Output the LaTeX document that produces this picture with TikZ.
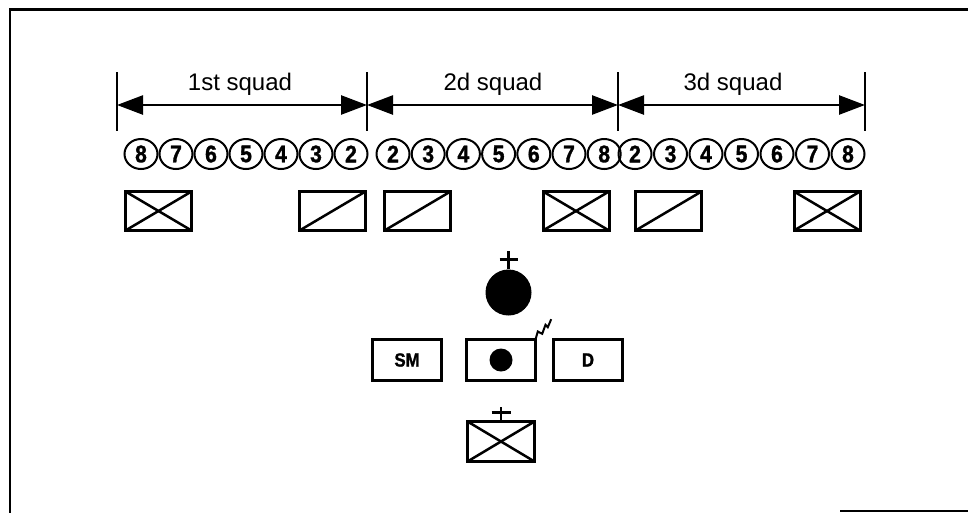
\documentclass[tikz,border=0pt]{standalone}
\usepackage{fontspec}
\setmainfont{Liberation Sans}
\newfontfamily\numfont[FakeBold=1.4,FakeStretch=0.88]{Liberation Sans Bold}
\usetikzlibrary{arrows.meta,shapes.geometric}

\tikzset{
  man/.style={draw, ellipse, line width=2pt, minimum width=33pt, minimum height=30pt,
    inner sep=0pt, font=\fontsize{24}{24}\selectfont\numfont},
  team/.style={draw, rectangle, line width=3pt, minimum width=66pt, minimum height=39pt,
    inner sep=0pt, outer sep=0pt},
  cpbox/.style={team, minimum width=69pt, minimum height=41pt,
    font=\fontsize{19}{19}\selectfont\numfont},
  squadlabel/.style={anchor=base, font=\fontsize{24}{24}\selectfont},
}

\begin{document}
\begin{tikzpicture}[>={Triangle[length=26pt,width=19pt]}, x=1pt, y=-1pt]
  \useasboundingbox (0,0) rectangle (968,512);

  % Frame
  \draw[line width=2.5pt] (970,9.5) -- (10,9.5) -- (10,514);
  \draw[line width=2.5pt] (840,511) -- (970,511);

  % Squad frontages
  \coordinate (k1) at (117,105);
  \coordinate (k2) at (367,105);
  \coordinate (k3) at (618,105);
  \coordinate (k4) at (865,105);
  \foreach \k in {k1,k2,k3,k4}
    \draw[line width=1.8pt] (\k) +(0,-33) -- +(0,26);
  \draw[<->, line width=2.5pt] (k1) -- (k2);
  \draw[<->, line width=2.5pt] (k2) -- (k3);
  \draw[<->, line width=2.5pt] (k3) -- (k4);

  \node[squadlabel] (lab1) at (240,90) {1st squad};
  \node[squadlabel] (lab2) at (493,90) {2d squad};
  \node[squadlabel] (lab3) at (733,90) {3d squad};

  % Soldiers
  \foreach \n [count=\i] in {8,7,6,5,4,3,2}
    \node[man] (a\i) at ({141+35*(\i-1)},154) {\n};
  \foreach \n [count=\i] in {2,3,4,5,6,7,8}
    \node[man] (b\i) at ({393+35.2*(\i-1)},154) {\n};
  \foreach \n [count=\i] in {2,3,4,5,6,7,8}
    \node[man] (c\i) at ({635+35.5*(\i-1)},154) {\n};

  % Teams
  \node[team] (t1) at (158.5,211) {};
  \node[team] (t2) at (332.5,211) {};
  \node[team] (t3) at (417.5,211) {};
  \node[team] (t4) at (576,211) {};
  \node[team] (t5) at (668.5,211) {};
  \node[team] (t6) at (827,211) {};
  \foreach \t in {t1,t4,t6} {
    \draw[line width=2.5pt] (\t.north west) -- (\t.south east);
    \draw[line width=2.5pt] (\t.south west) -- (\t.north east);
  }
  \foreach \t in {t2,t3,t5}
    \draw[line width=2.5pt] (\t.south west) -- (\t.north east);

  % Platoon leader
  \node[circle, fill, minimum size=46pt, inner sep=0pt] (pl) at (508.5,292.5) {};
  \draw[line width=2.5pt] (pl.north) -- ++(0,-18) ++(-9,8) -- ++(18,0);

  % Headquarters
  \node[cpbox] (sm) at (407,360) {SM};
  \node[cpbox] (rto) at (501,360) {};
  \node[cpbox] (fo) at (588,360) {D};
  \node[circle, fill, minimum size=23pt, inner sep=0pt] (rdot) at (rto.center) {};
  \draw[line width=2pt] (rto.north east) -- ++(2.3,-8) -- ++(4.4,2.3) -- ++(3.3,-9)
    -- ++(2.3,2.4) -- ++(3.4,-8);

  % Platoon sergeant
  \node[team, minimum width=67pt, minimum height=40pt] (psg) at (501,441.5) {};
  \draw[line width=2.5pt] (psg.north west) -- (psg.south east);
  \draw[line width=2.5pt] (psg.south west) -- (psg.north east);
  \draw[line width=2.5pt] (psg.north) -- ++(0,-15) ++(-9.5,6) -- ++(19,0);
\end{tikzpicture}
\end{document}
